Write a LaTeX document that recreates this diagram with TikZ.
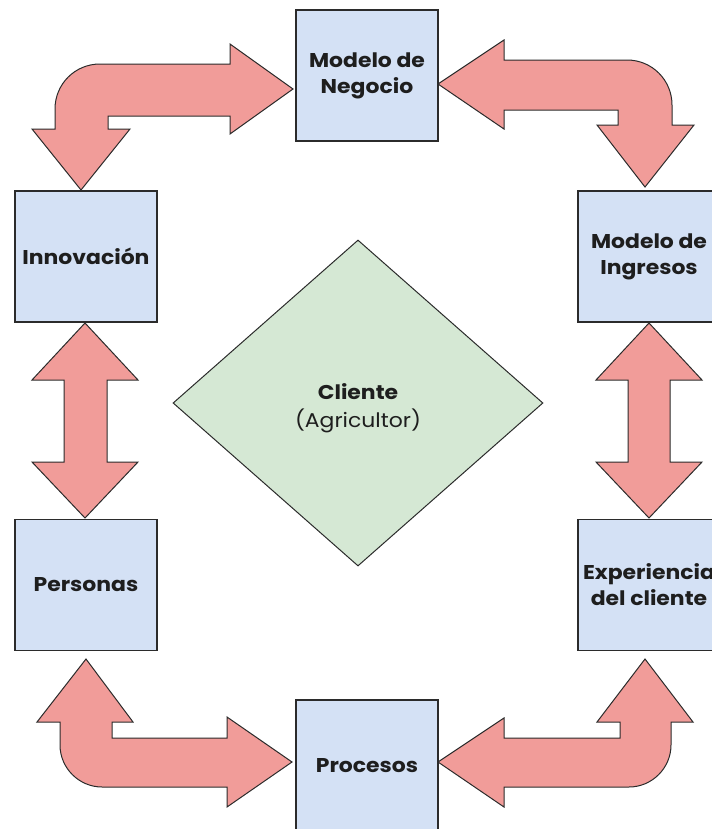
\documentclass[tikz,border=0pt]{standalone}
\usepackage{fontspec}
\setmainfont{Poppins}[FakeStretch=1.1]
\usetikzlibrary{shapes.geometric}

\definecolor{boxfill}{HTML}{D4E1F5}
\definecolor{arrowfill}{HTML}{F19C99}
\definecolor{hubfill}{HTML}{D5E8D4}
\definecolor{edgeline}{HTML}{2B2B2B}
\definecolor{inktext}{HTML}{1E1E1E}

\begin{document}
\begin{tikzpicture}[x=1bp, y=-1bp,
  block/.style={draw=edgeline, line width=1.1bp, fill=boxfill,
    minimum width=142bp, minimum height=131bp, inner sep=0pt,
    align=center, text=inktext,
    font=\fontsize{20}{26}\selectfont\bfseries},
  flow/.style={draw=edgeline, line width=1bp, fill=arrowfill, line join=miter},
  hub/.style={diamond, draw=edgeline, line width=1bp, fill=hubfill,
    minimum width=370bp, minimum height=326bp, inner sep=0pt}]

\useasboundingbox (0,0) rectangle (712,829);
\clip (0,0) rectangle (712,829);

% --- blocks around the customer ---
\node[block] (negocio)  at (367,75.5)  {Modelo de\\Negocio};
\node[block] (innov)    at (86,256.5)  {Innovación};
\node[block] (ingresos) at (649,256.5) {Modelo de\\Ingresos};
\node[block] (personas) at (86,585)    {Personas};
\node[block] (experien) at (649,585)   {Experiencia\\del cliente};
\node[block] (procesos) at (367,765.5) {Procesos};

% --- customer in the centre ---
\node[hub] (cliente) at (358,403) {};
\node[align=center, text=inktext, font=\fontsize{20}{28}\selectfont]
  (clientelabel) at (358,408) {{\bfseries Cliente}\\(Agricultor)};

% --- bent double arrow: Innovación <-> Modelo de Negocio ---
\draw[flow] (293,89) -- (230,44) -- (230,64) -- (100,64)
  .. controls (75,64) and (55,84) .. (55,109)
  -- (55,129) -- (32,129) -- (81,190) -- (130,129) -- (108,129)
  -- (108,116) -- (230,116) -- (230,134) -- cycle;

% --- bent double arrow: Modelo de Negocio <-> Modelo de Ingresos ---
\draw[flow] (438,84) -- (504,40) -- (504,60) -- (627,60)
  .. controls (652,60) and (672,80) .. (672,105)
  -- (672,125) -- (694,125) -- (645,187) -- (597,125) -- (618,125)
  -- (618,110) -- (504,110) -- (504,129) -- cycle;

% --- bent double arrow: Personas <-> Procesos ---
\draw[flow] (86,659) -- (133,722) -- (112,722) -- (112,738)
  -- (227,738) -- (227,717) -- (292,762) -- (227,807) -- (227,787)
  -- (102,787) .. controls (79,787) and (60,768) .. (60,745)
  -- (60,722) -- (37,722) -- cycle;

% --- bent double arrow: Procesos <-> Experiencia del cliente ---
\draw[flow] (438,762) -- (504,718) -- (504,738) -- (620,738)
  -- (620,722) -- (597,722) -- (645,659) -- (693,722) -- (671,722)
  -- (671,745) .. controls (671,768) and (652,787) .. (629,787)
  -- (504,787) -- (504,807) -- cycle;

% --- straight double arrow: Innovación <-> Personas ---
\draw[flow] (85,323) -- (138,380) -- (107,380) -- (107,462)
  -- (138,462) -- (85,518) -- (32,462) -- (64,462) -- (64,380)
  -- (32,380) -- cycle;

% --- straight double arrow: Modelo de Ingresos <-> Experiencia del cliente ---
\draw[flow] (649,323) -- (702,380) -- (670,380) -- (670,462)
  -- (702,462) -- (649,518) -- (596,462) -- (628,462) -- (628,380)
  -- (596,380) -- cycle;

\end{tikzpicture}
\end{document}
